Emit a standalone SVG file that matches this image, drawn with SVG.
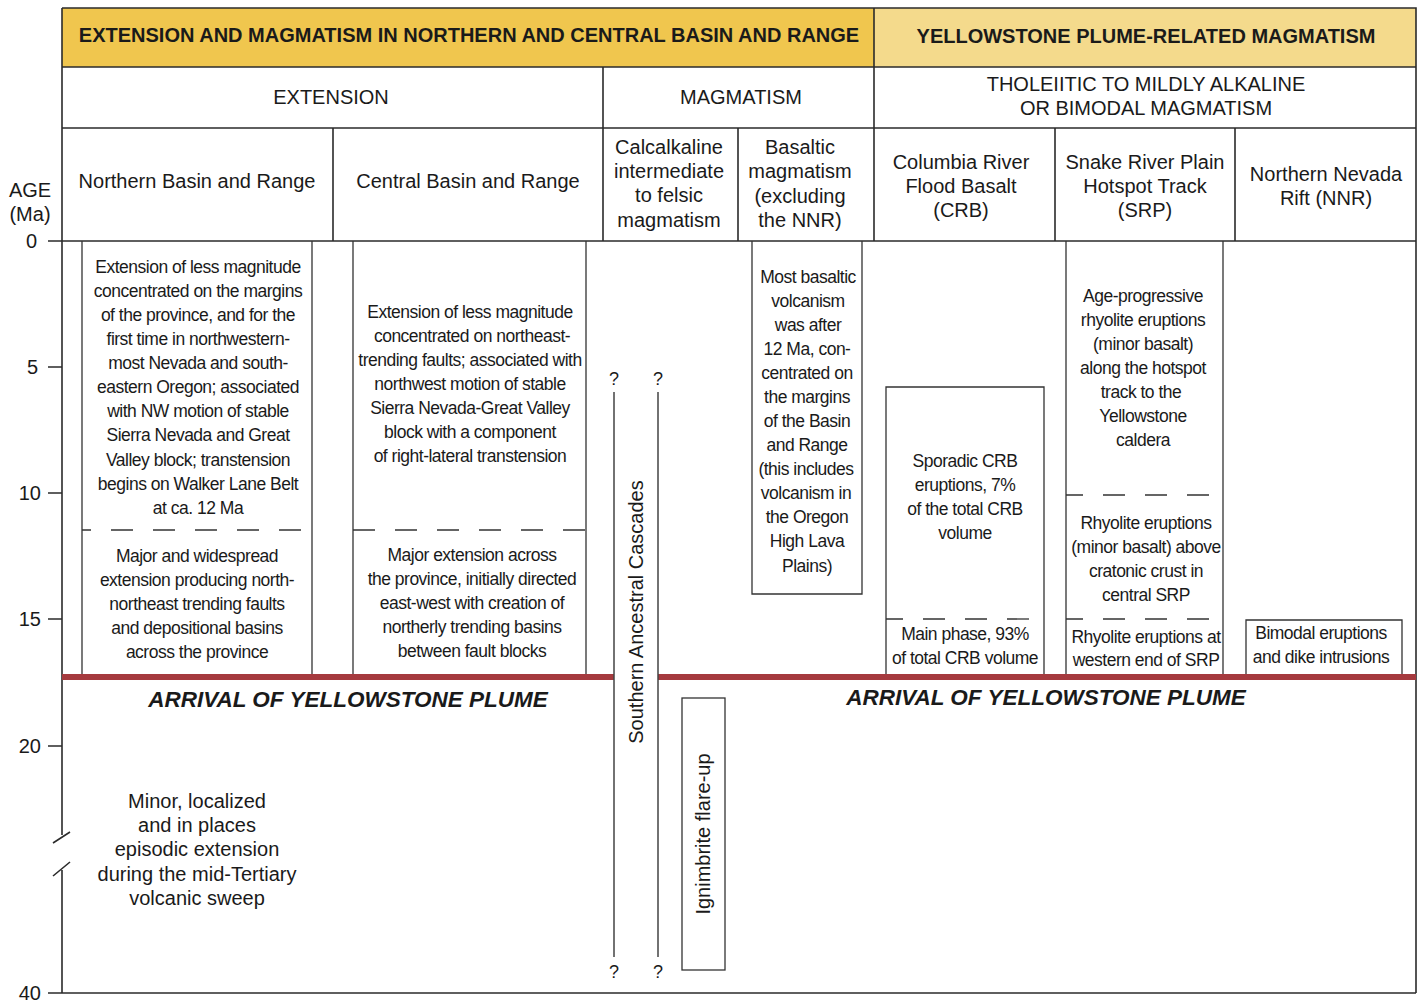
<svg xmlns="http://www.w3.org/2000/svg" width="1422" height="1003" viewBox="0 0 1422 1003">
<style>
text{font-family:"Liberation Sans",Arial,sans-serif;fill:#1a1a1a;text-anchor:middle}
.h{font-size:20px;font-weight:bold}
.c{font-size:20px}
.b{font-size:17.5px;letter-spacing:-0.5px}
.a{font-size:22.5px;font-weight:bold;font-style:italic}
.n{font-size:20px;text-anchor:end}
.q{font-size:18px}
.fr{fill:none;stroke:#2b2b2b;stroke-width:1.6}
.bx{fill:none;stroke:#333;stroke-width:1.3}
.ds{fill:none;stroke:#333;stroke-width:1.3;stroke-dasharray:22 20}
.ln{fill:none;stroke:#444;stroke-width:1.5}
</style>
<rect width="1422" height="1003" fill="#fff"/>
<g id="header">
<rect x="62" y="8" width="812" height="59" fill="#F0C64E"/>
<rect x="874" y="8" width="542" height="59" fill="#F4DA8C"/>
<path class="fr" d="M62 8H1416V993M62 8V835M62 67H1416M62 128H1416M603 67V241M874 8V241M333 128V241M738 128V241M1055 128V241M1235 128V241"/>
<text class="h" x="469" y="42">EXTENSION AND MAGMATISM IN NORTHERN AND CENTRAL BASIN AND RANGE</text>
<text class="h" x="1146" y="43">YELLOWSTONE PLUME-RELATED MAGMATISM</text>
<text class="c" x="331" y="104">EXTENSION</text>
<text class="c" x="741" y="104">MAGMATISM</text>
<text class="c" x="1146" y="91">THOLEIITIC TO MILDLY ALKALINE</text>
<text class="c" x="1146" y="115">OR BIMODAL MAGMATISM</text>
<text class="c" x="197" y="188">Northern Basin and Range</text>
<text class="c" x="468" y="188">Central Basin and Range</text>
<text class="c" x="669" y="154">Calcalkaline</text>
<text class="c" x="669" y="178">intermediate</text>
<text class="c" x="669" y="202">to felsic</text>
<text class="c" x="669" y="227">magmatism</text>
<text class="c" x="800" y="154">Basaltic</text>
<text class="c" x="800" y="178">magmatism</text>
<text class="c" x="800" y="203">(excluding</text>
<text class="c" x="800" y="227">the NNR)</text>
<text class="c" x="961" y="169">Columbia River</text>
<text class="c" x="961" y="193">Flood Basalt</text>
<text class="c" x="961" y="217">(CRB)</text>
<text class="c" x="1145" y="169">Snake River Plain</text>
<text class="c" x="1145" y="193">Hotspot Track</text>
<text class="c" x="1145" y="217">(SRP)</text>
<text class="c" x="1326" y="181">Northern Nevada</text>
<text class="c" x="1326" y="205">Rift (NNR)</text>
</g>
<g id="axis">
<path class="fr" d="M48 241H1416M48 993H1416M48 367H62M48 493H62M48 619H62M48 746H62M53 843L70 832M53 876L70 862M62 993V870"/>
<text class="c" x="30" y="197">AGE</text>
<text class="c" x="30" y="221">(Ma)</text>
<text class="n" x="37" y="248">0</text>
<text class="n" x="38" y="374">5</text>
<text class="n" x="41" y="500">10</text>
<text class="n" x="41" y="626">15</text>
<text class="n" x="41" y="753">20</text>
<text class="n" x="41" y="1000">40</text>
</g>
<g id="lines">
<rect x="62" y="674" width="552" height="6" fill="#A53A3E"/>
<rect x="658" y="674" width="758" height="6" fill="#A53A3E"/>
<path class="ln" d="M614 392V957M658 392V957"/>
<text class="q" x="614" y="385">?</text>
<text class="q" x="658" y="385">?</text>
<text class="q" x="614" y="978">?</text>
<text class="q" x="658" y="978">?</text>
</g>
<g id="northern-basin-range">
<path class="bx" d="M82 241V674M312 241V674"/>
<path class="ds" d="M82 530H312" stroke-dashoffset="13"/>
<text class="b"><tspan x="198" y="273">Extension of less magnitude</tspan><tspan x="198" y="297">concentrated on the margins</tspan><tspan x="198" y="321">of the province, and for the</tspan><tspan x="198" y="345">first time in northwestern-</tspan><tspan x="198" y="369">most Nevada and south-</tspan><tspan x="198" y="393">eastern Oregon; associated</tspan><tspan x="198" y="417">with NW motion of stable</tspan><tspan x="198" y="441">Sierra Nevada and Great</tspan><tspan x="198" y="466">Valley block; transtension</tspan><tspan x="198" y="490">begins on Walker Lane Belt</tspan><tspan x="198" y="514">at ca. 12 Ma</tspan></text>
<text class="b"><tspan x="197" y="562">Major and widespread</tspan><tspan x="197" y="586">extension producing north-</tspan><tspan x="197" y="610">northeast trending faults</tspan><tspan x="197" y="634">and depositional basins</tspan><tspan x="197" y="658">across the province</tspan></text>
</g>
<g id="central-basin-range">
<path class="bx" d="M353 241V674M586 241V674"/>
<path class="ds" d="M353 530H586" stroke-dashoffset="0"/>
<text class="b"><tspan x="470" y="318">Extension of less magnitude</tspan><tspan x="472" y="342">concentrated on northeast-</tspan><tspan x="470" y="366">trending faults; associated with</tspan><tspan x="470" y="390">northwest motion of stable</tspan><tspan x="470" y="414">Sierra Nevada-Great Valley</tspan><tspan x="470" y="438">block with a component</tspan><tspan x="470" y="462">of right-lateral transtension</tspan></text>
<text class="b"><tspan x="472" y="561">Major extension across</tspan><tspan x="472" y="585">the province, initially directed</tspan><tspan x="472" y="609">east-west with creation of</tspan><tspan x="472" y="633">northerly trending basins</tspan><tspan x="472" y="657">between fault blocks</tspan></text>
</g>
<g id="cascades">
<text class="c" transform="translate(643 612) rotate(-90)">Southern Ancestral Cascades</text>
</g>
<g id="ignimbrite">
<rect class="bx" x="682" y="698" width="43" height="272"/>
<text class="c" transform="translate(710 834) rotate(-90)">Ignimbrite flare-up</text>
</g>
<g id="basaltic">
<path class="bx" d="M752 241V594H862V241"/>
<text class="b"><tspan x="808" y="283">Most basaltic</tspan><tspan x="808" y="307">volcanism</tspan><tspan x="808" y="331">was after</tspan><tspan x="807" y="355">12 Ma, con-</tspan><tspan x="807" y="379">centrated on</tspan><tspan x="807" y="403">the margins</tspan><tspan x="807" y="427">of the Basin</tspan><tspan x="807" y="451">and Range</tspan><tspan x="806" y="475">(this includes</tspan><tspan x="806" y="499">volcanism in</tspan><tspan x="807" y="523">the Oregon</tspan><tspan x="807" y="547">High Lava</tspan><tspan x="807" y="572">Plains)</tspan></text>
</g>
<g id="crb">
<path class="bx" d="M886 674V387H1044V674"/>
<path class="ds" d="M886 619H1044" stroke-dashoffset="5"/>
<text class="b"><tspan x="965" y="467">Sporadic CRB</tspan><tspan x="965" y="491">eruptions, 7%</tspan><tspan x="965" y="515">of the total CRB</tspan><tspan x="965" y="539">volume</tspan></text>
<text class="b"><tspan x="965" y="640">Main phase, 93%</tspan><tspan x="965" y="664">of total CRB volume</tspan></text>
</g>
<g id="srp">
<path class="bx" d="M1066 241V674M1223 241V674"/>
<path class="ds" d="M1066 495H1223M1066 619H1223" stroke-dashoffset="5"/>
<text class="b"><tspan x="1143" y="302">Age-progressive</tspan><tspan x="1143" y="326">rhyolite eruptions</tspan><tspan x="1143" y="350">(minor basalt)</tspan><tspan x="1143" y="374">along the hotspot</tspan><tspan x="1141" y="398">track to the</tspan><tspan x="1143" y="422">Yellowstone</tspan><tspan x="1143" y="446">caldera</tspan></text>
<text class="b"><tspan x="1146" y="529">Rhyolite eruptions</tspan><tspan x="1146" y="553">(minor basalt) above</tspan><tspan x="1146" y="577">cratonic crust in</tspan><tspan x="1146" y="601">central SRP</tspan></text>
<text class="b"><tspan x="1146" y="643">Rhyolite eruptions at</tspan><tspan x="1146" y="666">western end of SRP</tspan></text>
</g>
<g id="nnr">
<path class="bx" d="M1246 674V620H1402V674"/>
<text class="b"><tspan x="1321" y="639">Bimodal eruptions</tspan><tspan x="1321" y="663">and dike intrusions</tspan></text>
</g>
<g id="plume">
<text class="a" x="348" y="707">ARRIVAL OF YELLOWSTONE PLUME</text>
<text class="a" x="1046" y="705">ARRIVAL OF YELLOWSTONE PLUME</text>
</g>
<g id="mid-tertiary">
<text class="c"><tspan x="197" y="808">Minor, localized</tspan><tspan x="197" y="832">and in places</tspan><tspan x="197" y="856">episodic extension</tspan><tspan x="197" y="881">during the mid-Tertiary</tspan><tspan x="197" y="905">volcanic sweep</tspan></text>
</g>
</svg>
